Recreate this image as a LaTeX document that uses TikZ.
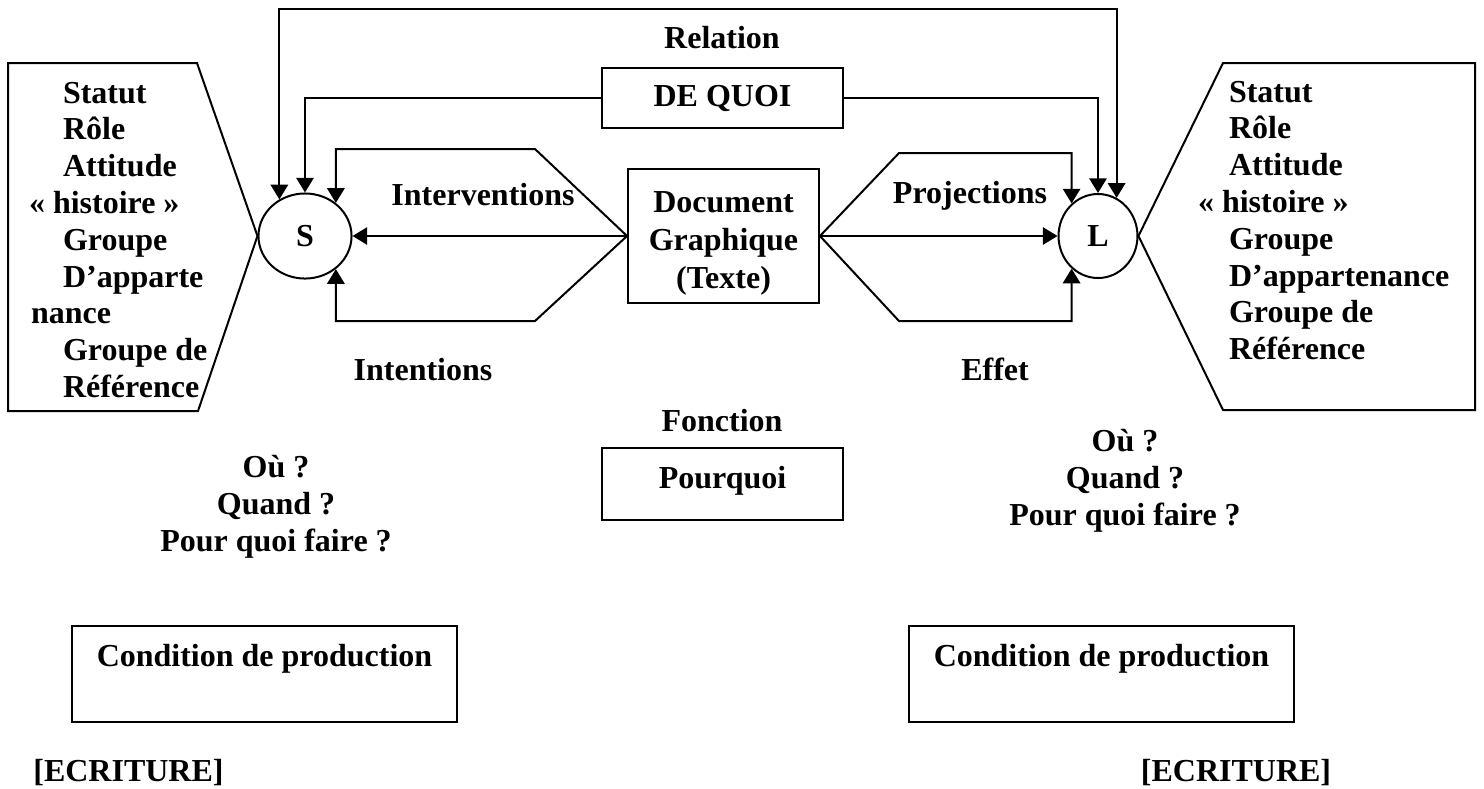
\documentclass[tikz,border=0pt]{standalone}
\usepackage{fontspec}
\setmainfont{Liberation Serif}
\usetikzlibrary{arrows.meta,shapes.geometric,positioning}

\begin{document}
\begin{tikzpicture}[x=0.375pt, y=-0.375pt, line width=0.75pt,
    every node/.style={inner sep=0pt, font=\bfseries\fontsize{12}{13.8}\selectfont},
    box/.style={draw, rectangle},
    topbox/.style={draw, rectangle, text height=15.2pt, anchor=north},
    who/.style={draw, ellipse},
    lbl/.style={anchor=base},
    arr/.style={-{Triangle[length=5.5pt,width=6.5pt]}},
    arrs/.style={{Triangle[length=5.5pt,width=6.5pt]}-{Triangle[length=5.5pt,width=6.5pt]}}
]
\useasboundingbox (0,0) rectangle (1484,788);

\node[who, minimum width=34.9pt, minimum height=31.9pt] (S) at (305,236) {S};
\node[who, minimum width=29.6pt, minimum height=31.5pt] (L) at (1098,236) {L};
\node[box, minimum width=71.6pt, minimum height=49.9pt, align=center,
    font=\bfseries\fontsize{12}{14.2}\selectfont] (doc) at (723.5,236) {\rule{0pt}{13.5pt}Document\\Graphique\\(Texte)};
\node[box, minimum width=90.4pt, minimum height=22.5pt] (dq) at (722.5,98) {DE QUOI};

\node[lbl] (rel)    at (722,48.5)  {Relation};
\node[lbl] (interv) at (483,205.5) {Interventions};
\node[lbl] (proj)   at (970,203.5) {Projections};
\node[lbl] (intent) at (423,380.5) {Intentions};
\node[lbl] (effet)  at (995,380.5) {Effet};
\node[lbl] (fonc)   at (722,431.5) {Fonction};
\node[topbox, minimum width=90.4pt, text depth=11.8pt] (pq) at (722.5,447) {Pourquoi};

\node[align=center] (ouS) at (276,507) {Où ?\\Quand ?\\Pour quoi faire ?};
\node[align=center] (ouL) at (1125,481) {Où ?\\Quand ?\\Pour quoi faire ?};

\node[topbox, minimum width=144.4pt, text depth=20.8pt] (condS) at (264.5,625) {Condition de production};
\node[topbox, minimum width=144.4pt, text depth=20.8pt] (condL) at (1101.5,625) {Condition de production};
\node[lbl] (ecrS) at (128.5,781.5) {[ECRITURE]};
\node[lbl] (ecrL) at (1236,781.5) {[ECRITURE]};

\foreach \xx/\txt [count=\i] in {62/Statut, 62/Rôle, 62/Attitude, 28/« histoire », 62/Groupe,
    62/D’apparte, 30/nance, 62/Groupe de, 62/Référence}
  \node[anchor=base west] (gs\i) at (\xx,{66.2+36.8*\i}) {\txt};
\foreach \xx/\txt [count=\i] in {1228/Statut, 1228/Rôle, 1228/Attitude, 1197/« histoire »,
    1228/Groupe, 1228/D’appartenance, 1228/Groupe de, 1228/Référence}
  \node[anchor=base west] (gl\i) at (\xx,{65.2+36.8*\i}) {\txt};

\draw (8,63) -- (197,63) -- (S.west) -- (198,411) -- (8,411) -- cycle;
\draw (1223,63) -- (1475,63) -- (1475,410) -- (1223,410) -- (L.east) -- cycle;

\coordinate (reltop) at (700,9);
\coordinate (ilt) at (535,149);
\coordinate (ilb) at (535,321);
\coordinate (prt) at (899,153);
\coordinate (prb) at (899,321);

\draw[arrs] (S.125) -- (S.125 |- reltop) -- (L.64 |- reltop) -- (L.64);
\draw[arr] (dq.west) -| (S);
\draw[arr] (dq.east) -| (L);
\draw[arr] (doc.west) -- (ilt) -- (ilt -| S.47) -- (S.47);
\draw[arr] (doc.west) -- (ilb) -- (ilb -| S.-47) -- (S.-47);
\draw[arr] (doc) -- (S);
\draw[arr] (doc.east) -- (prt) -- (prt -| L.129) -- (L.129);
\draw[arr] (doc.east) -- (prb) -- (prb -| L.231) -- (L.231);
\draw[arr] (doc) -- (L);
\end{tikzpicture}
\end{document}
